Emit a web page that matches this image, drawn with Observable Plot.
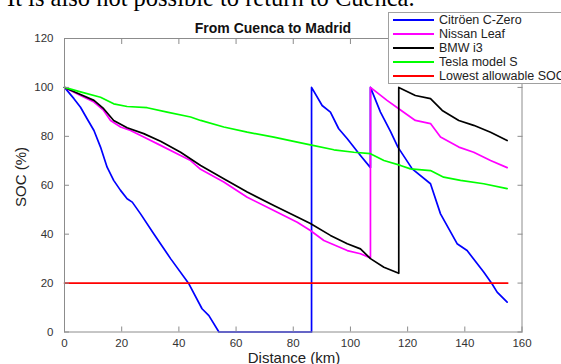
<!DOCTYPE html>
<html><head><meta charset="utf-8">
<script src="https://cdn.jsdelivr.net/npm/d3@7"></script>
<script src="https://cdn.jsdelivr.net/npm/@observablehq/plot@0.6"></script>
<style>
html,body{margin:0;padding:0;background:#fff;overflow:hidden;}
#wrap{position:relative;width:561px;height:364px;overflow:hidden;font-family:"Liberation Sans",Arial,sans-serif;}
#wrap svg{position:absolute;left:0;top:0;}
.ov{position:absolute;white-space:nowrap;}
</style></head><body><div id="wrap"></div>
<script>
const pageText = "It is also not possible to return to Cuenca.";
const chartTitle = "From Cuenca to Madrid";
const xLabel = "Distance (km)";
const yLabel = "SOC (%)";
const xTicks = [0, 20, 40, 60, 80, 100, 120, 140, 160];
const yTicks = [0, 20, 40, 60, 80, 100, 120];
const seriesNames = ["Citröen C-Zero", "Nissan Leaf", "BMW i3", "Tesla model S", "Lowest allowable SOC"];
const seriesColors = ["#0000ff", "#ff00ff", "#000000", "#00ff00", "#ff0000"];

const citroenDist = [0, 3.3, 5.6, 7.9, 10.3, 12.6, 14.9, 17.2, 19.6, 21.9, 23.7, 26.6, 31.2, 37.1, 43.5, 48.1, 50.5, 54, 86.4, 86.4, 90.1, 93, 95.9, 98.9, 103.5, 107, 107, 110.5, 114, 116.6, 121.6, 128, 131.5, 137.3, 140.8, 146.6, 149.5, 151.3, 154.8];
const citroenSOC  = [100, 95.4, 91.9, 87.2, 82.4, 75.6, 67.4, 62, 57.9, 54.5, 53.1, 48.3, 40.2, 30, 19.7, 9.5, 6.7, 0, 0, 100, 92.6, 89.9, 83.1, 79, 72.2, 67.2, 100, 89.9, 82, 75.6, 66.7, 60.6, 48.3, 36.1, 33.3, 24.5, 19.7, 16.3, 12.2];

const nissanDist = [0, 5.6, 10.3, 13.7, 16.1, 19.6, 23.1, 27.7, 33.6, 40.6, 44.1, 47.6, 55.7, 63.9, 73.2, 81.4, 86, 90.7, 94.8, 98.9, 103.5, 107, 107, 112.8, 116.9, 122.7, 128, 131.5, 137.9, 143.1, 149, 154.8];
const nissanSOC  = [100, 96.7, 94, 90.6, 86.5, 83.8, 82.4, 79.7, 76.3, 72.2, 70.1, 66.5, 61.3, 55.1, 49.7, 44.9, 41.5, 37.4, 35.4, 33.3, 32, 30.3, 100, 94.7, 91.3, 86.5, 85.2, 79.7, 75.6, 73.5, 70.1, 67.2];

const bmwDist = [0, 5.6, 10.3, 13.7, 17.2, 21.9, 27.7, 33.6, 40.6, 47.6, 55.7, 63.9, 73.2, 81.4, 86, 93, 98.9, 103.5, 107, 111.7, 116.9, 116.9, 122.7, 128, 132.1, 137.9, 143.1, 149, 154.8];
const bmwSOC  = [100, 97.1, 94.7, 91.3, 86.5, 83.5, 81.1, 78, 73.5, 68.1, 62.7, 57.2, 51.7, 47, 44.4, 39.5, 36.1, 34, 30, 26.5, 24, 100, 96.7, 95.4, 90.6, 86.5, 84.5, 81.7, 78.3];

const teslaDist = [0, 5.6, 12.6, 17.2, 21.9, 28.9, 35.9, 44.1, 47.6, 55.7, 63.9, 73.2, 81.4, 86, 94.2, 101.2, 107, 111.7, 117.5, 121, 128, 132.6, 138.5, 146.6, 154.8];
const teslaSOC  = [100, 98.2, 96, 93.3, 92.2, 91.7, 89.9, 87.9, 86.5, 83.8, 81.7, 79.7, 77.6, 76.5, 74.5, 73.5, 72.9, 70.1, 68.1, 66.7, 66, 63.3, 62, 60.6, 58.6];

const lowestDist = [0, 155];
const lowestSOC = [20, 20];

const seriesData = [
  [citroenDist, citroenSOC],
  [nissanDist, nissanSOC],
  [bmwDist, bmwSOC],
  [teslaDist, teslaSOC],
  [lowestDist, lowestSOC]
];
const tables = seriesData.map(([ds, vs], i) => ds.map((d, j) => ({d, v: vs[j], s: seriesNames[i]})));

const gray = "#8c8c8c";
const tickFont = {fontFamily: "'Liberation Sans', Arial, sans-serif", fontSize: "11.5px"};

const chart = Plot.plot({
  width: 561, height: 364,
  marginLeft: 64, marginRight: 39.5, marginTop: 38, marginBottom: 32.5,
  style: {...tickFont, background: "transparent", color: "#333"},
  x: {domain: [0, 160]},
  y: {domain: [0, 120]},
  marks: [
    ...tables.map((t, i) => Plot.line(t, {x: "d", y: "v", stroke: seriesColors[i], strokeWidth: 1.7})),
    Plot.frame({stroke: gray}),
    Plot.axisX({ticks: xTicks, tickSize: -5, tickPadding: 11.5, stroke: gray, fill: "#333", label: null}),
    Plot.axisY({ticks: yTicks, tickSize: -5, tickPadding: 16, stroke: gray, fill: "#333", label: null}),
    Plot.axisX({ticks: xTicks, anchor: "top", tickSize: -5, tickFormat: () => "", stroke: gray, label: null}),
    Plot.axisY({ticks: yTicks, anchor: "right", tickSize: -5, tickFormat: () => "", stroke: gray, label: null})
  ]
});
const wrap = document.getElementById("wrap");
wrap.appendChild(chart);

function addDiv(text, css) {
  const el = document.createElement("div");
  el.className = "ov";
  el.textContent = text;
  Object.assign(el.style, css);
  wrap.appendChild(el);
  return el;
}
addDiv(pageText, {left: "7px", top: "-17px", fontFamily: "'Liberation Serif', 'Times New Roman', serif", fontSize: "24.5px", color: "#000", lineHeight: "30px"});
addDiv(chartTitle, {left: "273px", top: "20px", transform: "translateX(-50%)", fontWeight: "bold", fontSize: "14px", color: "#111", lineHeight: "16px"});
addDiv(xLabel, {left: "294px", top: "349px", transform: "translateX(-50%)", fontSize: "15px", color: "#222", lineHeight: "17px"});
addDiv(yLabel, {left: "19.5px", top: "177px", transform: "translate(-50%,-50%) rotate(-90deg)", fontSize: "15px", color: "#222", lineHeight: "17px"});

// legend
const leg = document.createElement("div");
Object.assign(leg.style, {position: "absolute", left: "388px", top: "12px", width: "200px", height: "70px", border: "1px solid #a0a0a0", background: "#fff"});
wrap.appendChild(leg);
seriesNames.forEach((name, i) => {
  const cy = 20 + i * 14;
  const ln = document.createElement("div");
  Object.assign(ln.style, {position: "absolute", left: "393px", top: (cy - 1) + "px", width: "41px", height: "0", borderTop: "2px solid " + seriesColors[i]});
  wrap.appendChild(ln);
  addDiv(name, {left: "439px", top: (cy - 7.5) + "px", fontSize: "12.5px", color: "#222", lineHeight: "15px"});
});
</script></body></html>
